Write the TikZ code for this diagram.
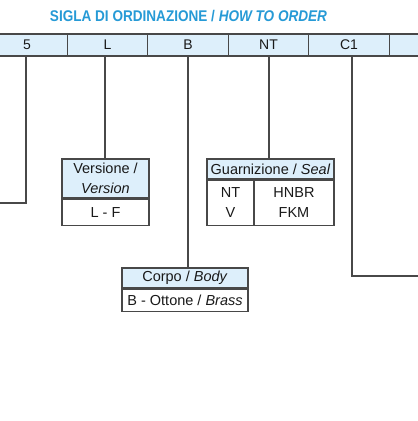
\documentclass[tikz,border=0pt]{standalone}
\usepackage{fontspec}
\setmainfont{Liberation Sans}
\usepackage{graphicx}
\definecolor{hdrfill}{RGB}{221,239,251}
\definecolor{titleblue}{RGB}{38,154,214}
\definecolor{edge}{RGB}{72,72,72}
\definecolor{ink}{RGB}{25,25,25}
\tikzset{
  cell/.style={draw=edge, line width=1.2pt, fill=hdrfill, minimum width=80.5pt, minimum height=22pt, inner sep=0pt, text=ink, font=\fontsize{14}{16}\selectfont},
  hdr/.style={draw=edge, line width=1.2pt, fill=hdrfill, inner sep=0pt, text=ink, align=center, font=\fontsize{14.5}{20}\selectfont},
  val/.style={draw=edge, line width=1.2pt, fill=white, inner sep=0pt, text=ink, align=center, font=\fontsize{14.5}{20}\selectfont},
  conn/.style={draw=edge, line width=1.2pt}
}
\begin{document}
\begin{tikzpicture}[x=1pt,y=-1pt]
\useasboundingbox (0,0) rectangle (418,421);
\clip (0,0) rectangle (418,421);
\fill[white] (0,0) rectangle (418,421);
% title
\node[text=titleblue, font=\bfseries\fontsize{15.5}{18}\selectfont, inner sep=0pt] (title) at (188.5,16.5)
  {\scalebox{0.875}[1]{SIGLA DI ORDINAZIONE / \textit{HOW TO ORDER}}};
% code bar
\node[cell] (c5) at (27,45) {5};
\node[cell] (cL) at (107.5,45) {L};
\node[cell] (cB) at (188,45) {B};
\node[cell] (cNT) at (268.5,45) {NT};
\node[cell] (cC) at (349,45) {C1};
\node[cell] (cE) at (429.5,45) {};
% Versione box
\node[hdr, minimum width=87pt, minimum height=39pt] (vh) at (105.5,178.5) {Versione /\\\textit{Version}};
\node[val, minimum width=87pt, minimum height=26pt, anchor=north] (vv) at (vh.south) {L - F};
% Guarnizione box
\node[hdr, minimum width=127pt, minimum height=20pt] (gh) at (270.5,169) {Guarnizione / \textit{Seal}};
\node[val, minimum width=47pt, minimum height=45pt, anchor=north west] (gl) at (gh.south west) {NT\\V};
\node[val, minimum width=80pt, minimum height=45pt, anchor=north east] (gr) at (gh.south east) {HNBR\\FKM};
% Corpo box
\node[hdr, minimum width=126pt, minimum height=20pt] (ch) at (185,278) {Corpo / \textit{Body}};
\node[val, minimum width=126pt, minimum height=22pt, anchor=north] (cv) at (ch.south) {B - Ottone / \textit{Brass}};
% free ends
\coordinate (leftend) at (0,203);
\coordinate (rightend) at (418,276);
% connectors
\draw[conn] ([xshift=-1pt]c5.south) |- (leftend);
\draw[conn] ([xshift=-0.5pt]vh.north) -- ([xshift=-0.5pt]vh.north |- cL.south);
\draw[conn] (cB.south) -- (cB.south |- ch.north);
\draw[conn] ([xshift=-1.5pt]gh.north) -- ([xshift=-1.5pt]gh.north |- cNT.south);
\draw[conn] ([xshift=3pt]cC.south) |- (rightend);
\end{tikzpicture}
\end{document}
